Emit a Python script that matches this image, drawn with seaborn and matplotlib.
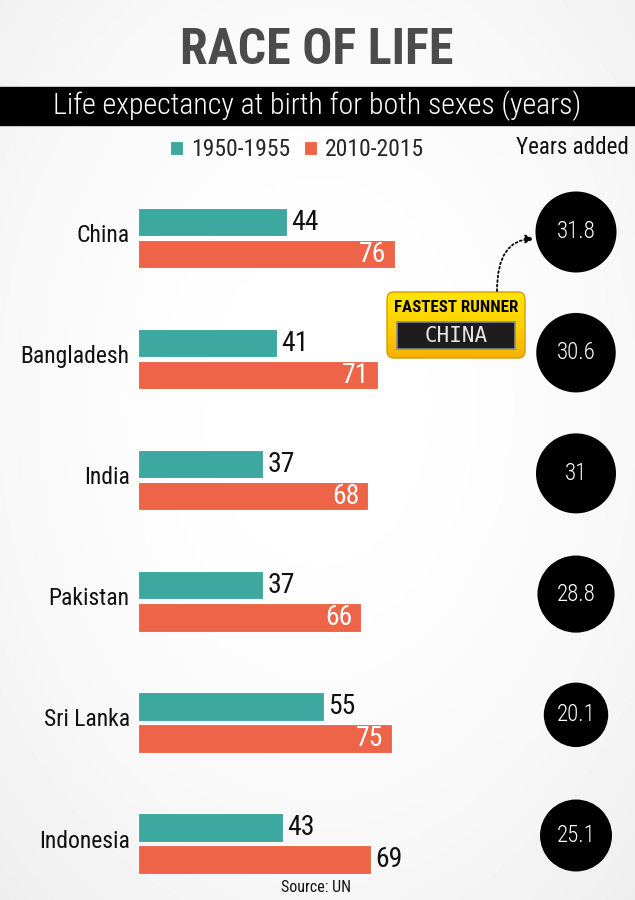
import numpy as np
import pandas as pd
import matplotlib.pyplot as plt
import seaborn as sns
from matplotlib.patches import Rectangle, FancyBboxPatch
from matplotlib.colors import LinearSegmentedColormap
from matplotlib.transforms import ScaledTranslation

# ---- data ----
countries = ["China", "Bangladesh", "India", "Pakistan", "Sri Lanka", "Indonesia"]
life_1950 = [44, 41, 37, 37, 55, 43]
life_2010 = [76, 71, 68, 66, 75, 69]
years_added = [31.8, 30.6, 31, 28.8, 20.1, 25.1]
periods = ["1950-1955", "2010-2015"]
# where the 2010-2015 number sits: inside the bar (white) or after it (black)
label_inside = [True, True, True, True, True, False]

TEAL = "#3ca89f"
ORANGE = "#ee6449"
FONT = ["Roboto Condensed", "Roboto", "DejaVu Sans"]

sns.set_style("white")
plt.rcParams["font.family"] = FONT

df = pd.DataFrame({
    "country": countries * 2,
    "years": life_1950 + life_2010,
    "period": [periods[0]] * len(countries) + [periods[1]] * len(countries),
})

W, H = 635, 900
fig = plt.figure(figsize=(W / 100, H / 100), dpi=100)


def px_axes(x0, y0, x1, y1):
    # axes placed by pixel box (y measured from the top)
    return fig.add_axes([x0 / W, 1 - y1 / H, (x1 - x0) / W, (y1 - y0) / H])


# ==========================================
# background: soft grey vignette
# ==========================================
ax_bg = px_axes(0, 0, W, H)
yy, xx = np.mgrid[0:1:200j, 0:1:200j]
r = np.hypot(xx - 0.5, yy - 0.45) / 0.7
ax_bg.imshow(1 - 0.06 * r ** 2, cmap="gray", vmin=0, vmax=1,
             extent=(0, W, H, 0), aspect="auto")
ax_bg.set_xlim(0, W)
ax_bg.set_ylim(H, 0)
ax_bg.axis("off")

# ==========================================
# bars
# ==========================================
ax = px_axes(138, 177.5, 476, 895)
sns.barplot(data=df, x="years", y="country", hue="period", orient="h",
            palette=[TEAL, ORANGE], saturation=1, width=0.53, gap=0.12,
            errorbar=None, edgecolor="white", linewidth=0.8, ax=ax)
ax.set_xlim(0, 100)
ax.set_ylim(5.425, -0.5)
handles, labels = ax.get_legend_handles_labels()
ax.get_legend().remove()
ax.set_facecolor("none")
for s in ax.spines.values():
    s.set_visible(False)
ax.set_xticks([])
ax.set_xlabel("")
ax.set_ylabel("")
ax.tick_params(axis="y", length=0, pad=6, labelsize=17, labelcolor="#111111")
# country names sit a little above the middle of each pair
lift = ScaledTranslation(0, 5 / 100, fig.dpi_scale_trans)
for tick in ax.yaxis.get_major_ticks():
    tick.label1.set_transform(tick.label1.get_transform() + lift)

for bar, v in zip(ax.containers[0], life_1950):
    yc = bar.get_y() + bar.get_height() / 2
    ax.annotate(f"{v}", (v, yc), xytext=(3, 0), textcoords="offset points",
                ha="left", va="center", fontsize=20, color="#111111")

for bar, v, inside in zip(ax.containers[1], life_2010, label_inside):
    yc = bar.get_y() + bar.get_height() / 2
    if inside:
        ax.annotate(f"{v}", (v, yc), xytext=(-6, 0), textcoords="offset points",
                    ha="right", va="center", fontsize=20, color="white")
    else:
        ax.annotate(f"{v}", (v, yc), xytext=(3, 0), textcoords="offset points",
                    ha="left", va="center", fontsize=20, color="#111111")

# ==========================================
# years-added circles (area ~ value)
# ==========================================
axc = px_axes(526, 171.65, 626, 895.85)
n = len(years_added)
axc.scatter([0] * n, range(n), s=[v * 107 for v in years_added],
            color="black", linewidths=0, clip_on=False)
for i, v in enumerate(years_added):
    axc.text(0, i, f"{v:g}", color="white", ha="center", va="center",
             fontsize=16.5, fontweight="light")
axc.set_xlim(-1, 1)
axc.set_ylim(5.5, -0.5)
axc.axis("off")

# ==========================================
# header, legend, badge, source
# ==========================================
ov = px_axes(0, 0, W, H)
ov.axis("off")

ov.text(317, 51, "RACE OF LIFE", fontsize=36, fontweight="bold",
        color="#4b4b4b", ha="center", va="center")
ov.add_patch(Rectangle((0, 87), W, 38, color="black"))
ov.text(W / 2, 106, "Life expectancy at birth for both sexes (years)",
        color="white", ha="center", va="center", fontsize=21.5, fontweight="light")
ov.text(572, 147, "Years added", fontsize=16.6, ha="center", va="center",
        color="#111111")

fig.legend(handles, labels, loc="center", bbox_to_anchor=(297 / W, 1 - 150 / H),
           ncol=2, frameon=False, fontsize=17, handlelength=0.55,
           handleheight=0.55, handletextpad=0.35, columnspacing=0.6)

# "fastest runner" badge
badge = FancyBboxPatch((387, 292), 138, 66, boxstyle="round,pad=0,rounding_size=7",
                       fc="none", ec="#d99a00", lw=1, zorder=2)
ov.add_patch(badge)
yellow = LinearSegmentedColormap.from_list("yl", ["#ffe600", "#ffd200", "#f6b000"])
im = ov.imshow(np.linspace(0, 1, 100).reshape(-1, 1), cmap=yellow,
               extent=(387, 525, 358, 292), aspect="auto", zorder=1)
im.set_clip_path(badge)
ov.text(456, 308, "FASTEST RUNNER", fontsize=12.2, fontweight="bold",
        ha="center", va="center", color="black", zorder=3)
ov.add_patch(Rectangle((397, 322), 118, 27, fc="#1d1d1d", ec="#8a8a8a",
                       lw=1.2, zorder=3))
ov.text(456, 336, "CHINA", family="DejaVu Sans Mono", fontsize=15,
        color="#e6e6e6", ha="center", va="center", zorder=4)

ov.annotate("", xy=(534, 239), xytext=(497, 291),
            arrowprops=dict(arrowstyle="-|>,head_length=0.5,head_width=0.25",
                            connectionstyle="angle3,angleA=90,angleB=0",
                            linestyle=(0, (1, 1.5)), lw=1.3, color="black",
                            shrinkA=0, shrinkB=0))

ov.text(316, 887, "Source: UN", fontsize=11.5, ha="center", va="center",
        color="#111111")

ov.set_xlim(0, W)
ov.set_ylim(H, 0)

fig.savefig("out.png", dpi=100)
plt.close()
